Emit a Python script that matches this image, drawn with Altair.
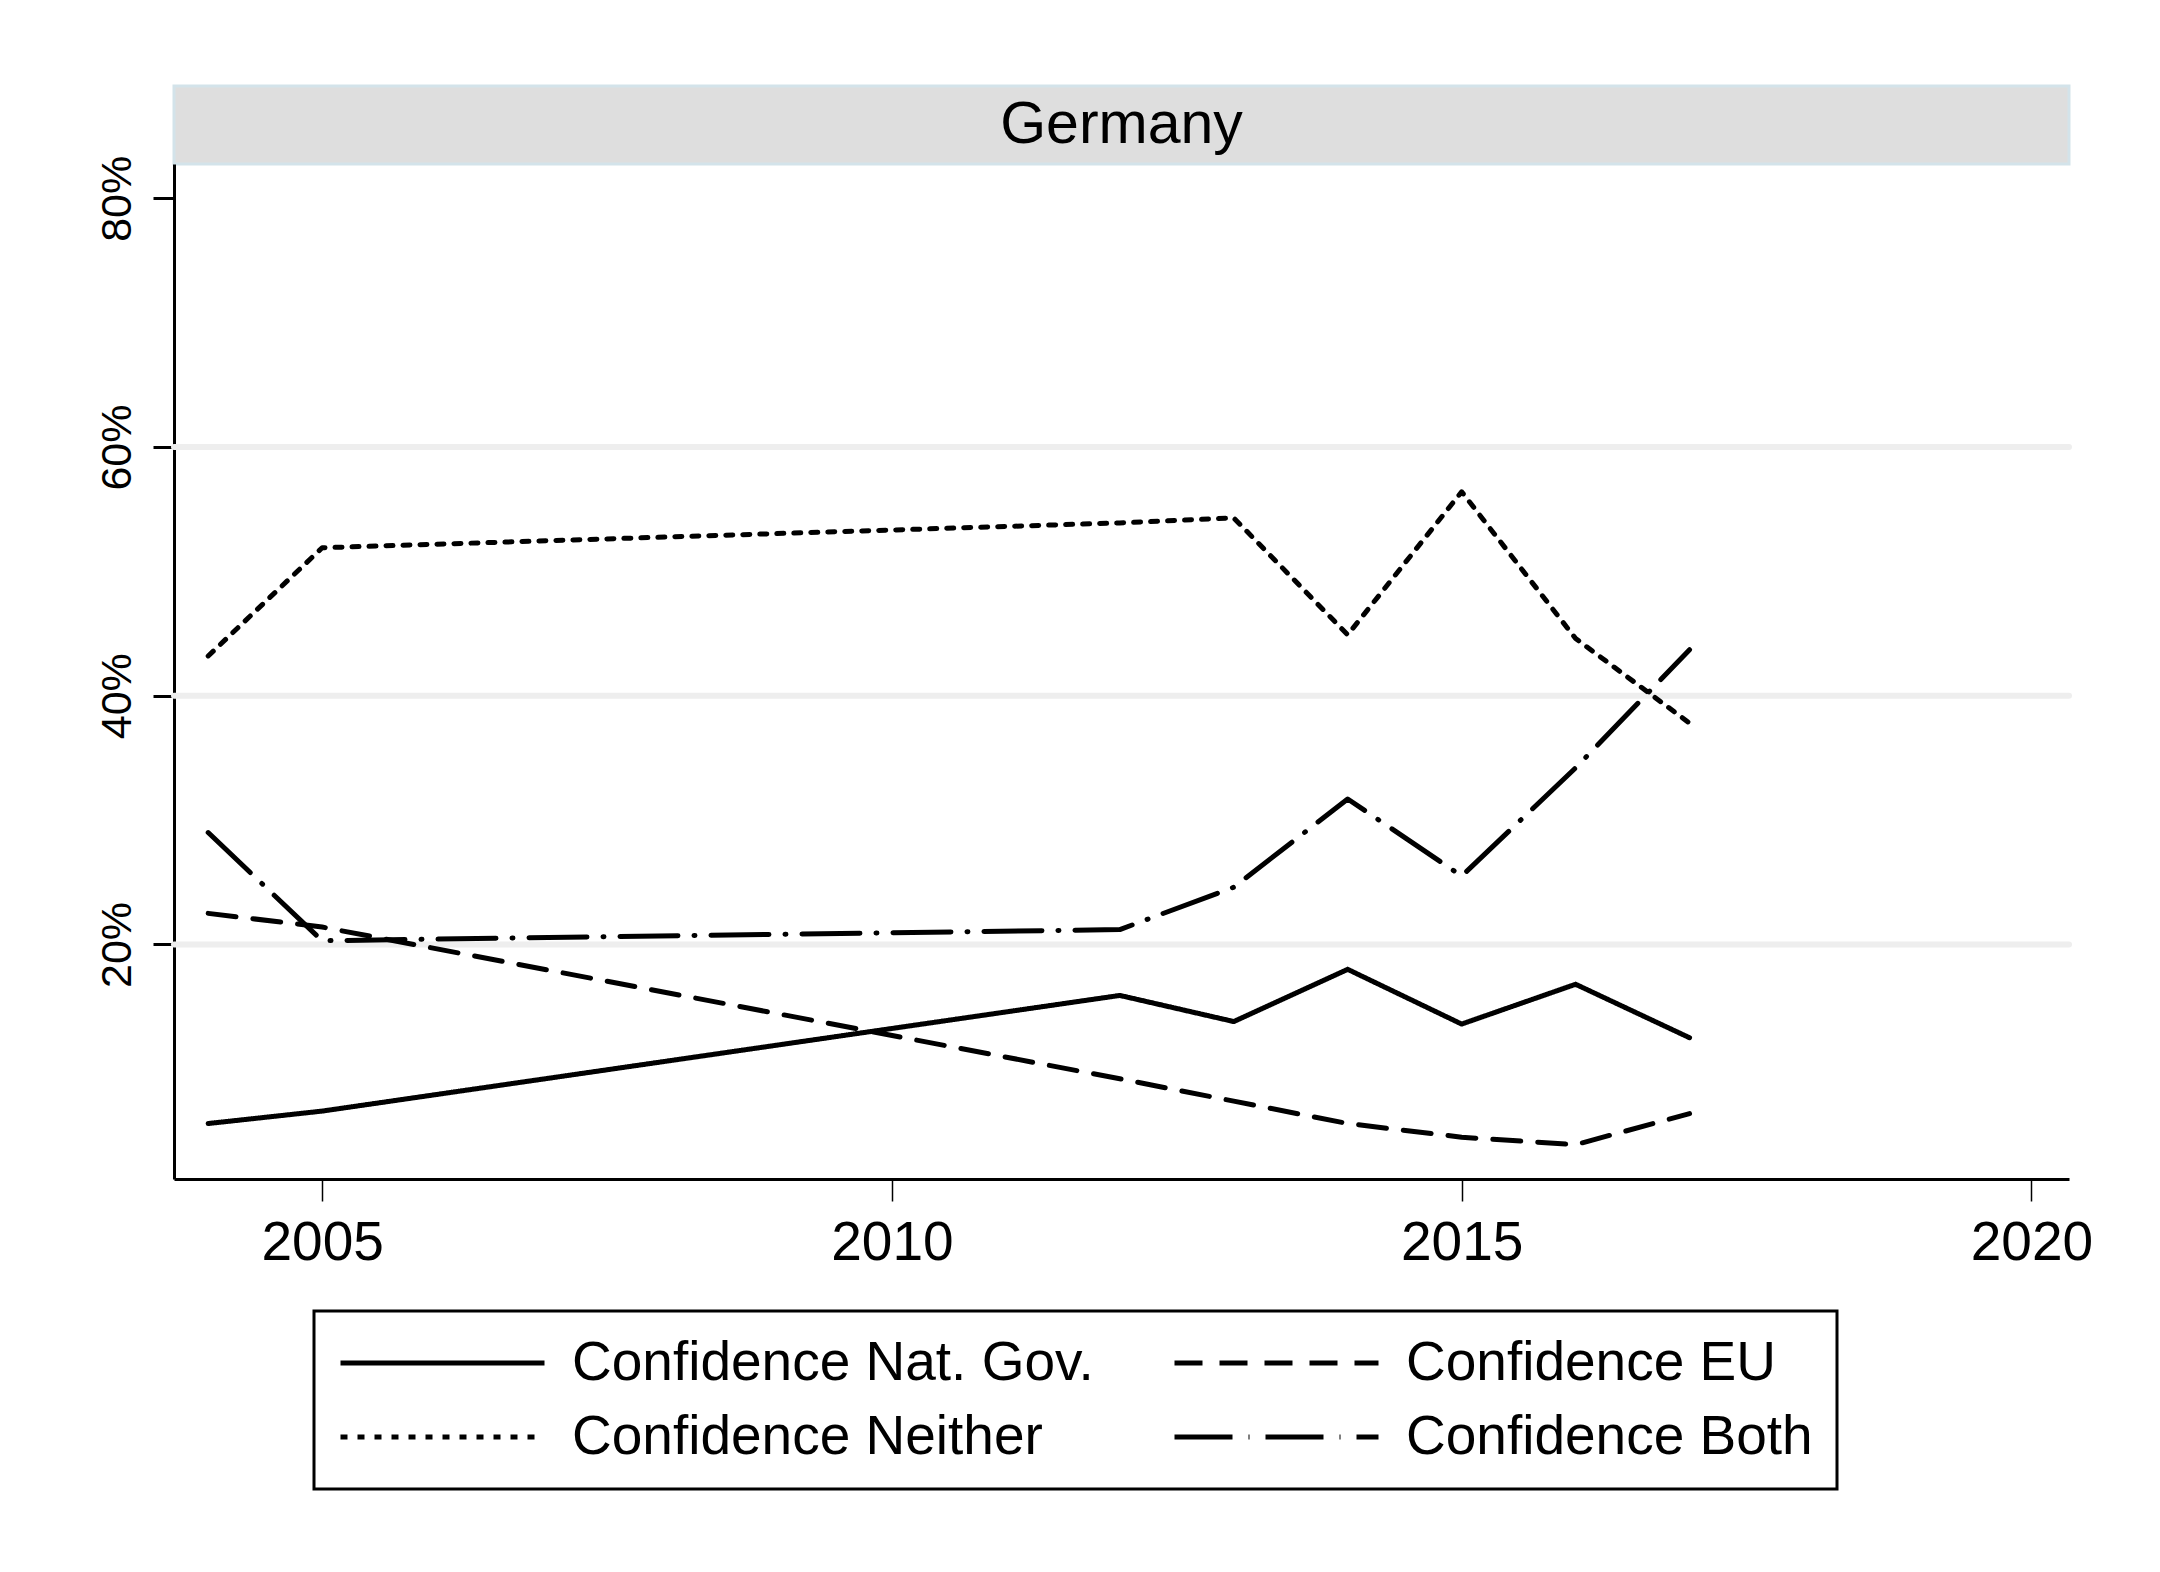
import altair as alt
import pandas as pd

# ---- data ----
years = [2004, 2005, 2012, 2013, 2014, 2015, 2016, 2017]
nat_gov = [5.6, 6.6, 15.9, 13.8, 18.0, 13.6, 16.8, 12.5]
eu = [22.5, 21.4, 9.2, 7.4, 5.6, 4.5, 3.9, 6.4]
neither = [43.2, 51.9, 53.9, 54.3, 44.9, 56.4, 44.6, 37.8]
both = [29.0, 20.3, 21.2, 24.6, 31.7, 25.5, 34.2, 43.7]
series_names = ["Confidence Nat. Gov.", "Confidence EU", "Confidence Neither", "Confidence Both"]
x_ticks = [2005, 2010, 2015, 2020]
y_ticks = [20, 40, 60, 80]
grid_values = [20, 40, 60]
panel_title = "Germany"

FONT = "Liberation Sans"
W = 1895
H_MAIN = 1015
H_HEAD = 78

rows = []
for name, vals in zip(series_names, [nat_gov, eu, neither, both]):
    for yr, v in zip(years, vals):
        rows.append({"year": yr, "value": v, "series": name})
df = pd.DataFrame(rows)
grid_df = pd.DataFrame({"value": grid_values})
head_df = pd.DataFrame({"label": [panel_title]})

dashes = [[1, 0], [28, 17], [7, 10], [58, 16, 1, 16]]

x_scale = alt.Scale(domain=[2003.7, 2020.33], nice=False, zero=False)
y_scale = alt.Scale(domain=[1.14, 82.76], nice=False, zero=False)

y_axis = alt.Axis(
    values=y_ticks, labelExpr="datum.value + '%'", title=None, grid=False,
    domainColor="black", domainWidth=3, tickColor="black", tickWidth=3,
    tickSize=21, labelFontSize=43, labelFont=FONT, labelColor="black",
    labelAngle=270, labelAlign="center", labelBaseline="bottom",
    labelPadding=14)

legend_kw = dict(
    orient="none", legendX=140, legendY=1225, columns=2, direction="horizontal",
    columnPadding=70, rowPadding=18, symbolType="M-1,0H7", symbolSize=2601,
    symbolStrokeWidth=5, labelFontSize=55, labelFont=FONT, labelColor="black",
    labelOffset=178, padding=24, strokeColor="black", title=None, labelLimit=0,
)

grid = alt.Chart(grid_df).mark_rule(color="#EEEEEE", strokeWidth=6, strokeCap="round").encode(
    y=alt.Y("value:Q", scale=y_scale, axis=y_axis)
)

lines = alt.Chart(df).mark_line(strokeWidth=5, strokeCap="round", strokeJoin="round").encode(
    x=alt.X("year:Q", scale=x_scale, axis=alt.Axis(
        values=x_ticks, format="d", title=None, grid=False, domainColor="black",
        domainWidth=3, tickColor="black", tickWidth=1.5, tickSize=22,
        labelFontSize=55, labelFont=FONT, labelColor="black", labelPadding=15,
        labelFlush=False)),
    y=alt.Y("value:Q", scale=y_scale, axis=y_axis),
    color=alt.Color("series:N", scale=alt.Scale(domain=series_names, range=["black"] * 4),
                    legend=alt.Legend(**legend_kw)),
    strokeDash=alt.StrokeDash("series:N", scale=alt.Scale(domain=series_names, range=dashes),
                              legend=alt.Legend(**legend_kw)),
)

main = alt.layer(grid, lines).properties(width=W, height=H_MAIN)

header = alt.Chart(head_df).mark_text(
    fontSize=59, font=FONT, color="black", baseline="middle", align="center"
).encode(text="label:N").properties(
    width=W, height=H_HEAD,
    view=alt.ViewBackground(fill="#DEDEDE", stroke="#D3E3EA", strokeWidth=3),
)

chart = alt.vconcat(header, main, spacing=0, bounds="flush").properties(
    padding={"left": 87, "top": 76, "right": 20, "bottom": 20},
    background="white",
).configure_view(stroke="transparent").configure_legend(strokeWidth=3)

chart.save("out.html", embed_options={"renderer": "svg", "actions": False})
